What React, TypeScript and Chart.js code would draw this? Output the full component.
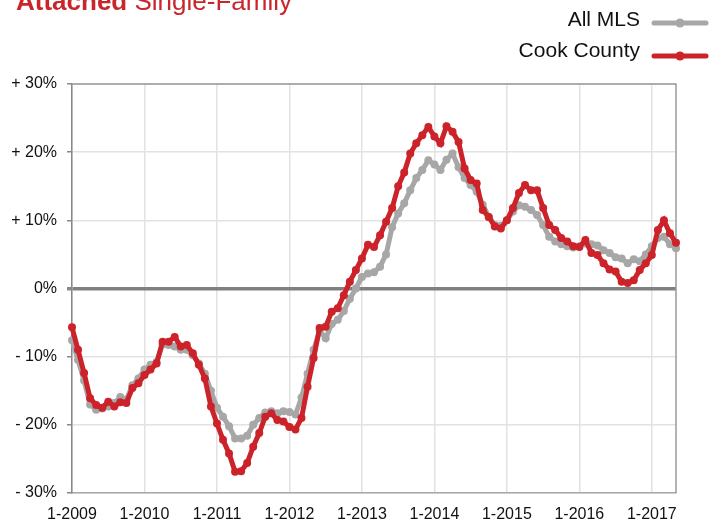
import React, { useEffect, useRef } from "react";
import { Chart, registerables } from "chart.js";

Chart.register(...registerables);

// ---- data ----
const START_YEAR = 2009;
const MONTH_COUNT = 101; // 1-2009 .. 5-2017
const MONTH_LABELS: string[] = [];
for (let i = 0; i < MONTH_COUNT; i++) {
  MONTH_LABELS.push(`${(i % 12) + 1}-${START_YEAR + Math.floor(i / 12)}`);
}

const ALL_MLS = [
  -7.6, -10.5, -13.5, -17.0, -17.8, -17.6, -17.3, -16.8, -15.9, -16.3, -14.2, -13.2,
  -11.9, -11.2, -10.8, -8.2, -8.3, -8.5, -9.0, -9.0, -9.8, -11.0, -12.5, -15.0,
  -17.5, -18.8, -20.2, -22.0, -22.0, -21.6, -20.0, -19.0, -18.2, -18.0, -18.3, -18.0,
  -18.1, -18.5, -16.0, -12.5, -9.0, -6.2, -7.3, -5.2, -4.6, -3.3, -1.5, 0.0,
  1.7, 2.2, 2.4, 3.2, 5.0, 9.0, 11.0, 12.5, 14.4, 16.2, 17.4, 18.8,
  18.2, 17.4, 18.9, 19.8, 17.8, 16.2, 15.2, 14.2, 12.3, 10.5, 9.3, 9.2,
  10.0, 11.3, 12.2, 12.0, 11.5, 10.8, 9.3, 7.6, 6.9, 6.5, 6.2, 6.0,
  6.2, 6.6, 6.5, 6.3, 5.6, 5.2, 4.6, 4.4, 3.7, 4.3, 4.0, 5.0,
  6.2, 7.4, 7.6, 6.5, 5.9,
];

const COOK_COUNTY = [
  -5.7, -9.0, -12.4, -16.1, -17.1, -17.5, -16.6, -17.3, -16.7, -16.8, -14.6, -13.9,
  -12.7, -11.9, -11.0, -7.8, -7.8, -7.1, -8.5, -8.3, -9.5, -11.2, -13.2, -17.3,
  -19.8, -22.2, -24.2, -26.9, -26.8, -25.6, -23.2, -21.2, -18.8, -18.3, -19.3, -19.5,
  -20.3, -20.7, -19.0, -14.4, -10.2, -5.8, -5.6, -3.4, -2.9, -1.0, 1.0, 2.7,
  4.4, 6.4, 6.1, 7.8, 9.8, 11.8, 15.0, 17.0, 19.8, 21.3, 22.5, 23.7,
  22.3, 21.3, 23.8, 23.0, 21.5, 17.6, 15.9, 15.4, 11.5, 10.5, 9.1, 8.8,
  10.0, 11.8, 14.0, 15.2, 14.4, 14.4, 11.8, 9.3, 8.6, 7.4, 6.9, 6.2,
  6.1, 7.1, 5.2, 4.9, 3.7, 2.8, 2.5, 1.0, 0.8, 1.2, 2.7, 3.7,
  4.9, 8.6, 10.0, 8.1, 6.7,
];

const Y_MIN = -30;
const Y_MAX = 30;
const Y_STEP = 10;

const TITLE_BOLD = "Attached";
const TITLE_REST = " Single-Family";

const GRAY = "#a7a7a7";
const RED = "#cc2229";
const FONT = "'Liberation Sans', Arial, Helvetica, sans-serif";

function fmtPct(v: number): string {
  if (v > 0) return `+ ${v}%`;
  if (v < 0) return `- ${Math.abs(v)}%`;
  return "0%";
}

const framePlugin = {
  id: "frame",
  beforeDatasetsDraw(chart: any) {
    const { ctx, chartArea } = chart;
    ctx.save();
    ctx.strokeStyle = "#9a9a9a";
    ctx.lineWidth = 1.5;
    ctx.beginPath();
    ctx.moveTo(chartArea.left, chartArea.top);
    ctx.lineTo(chartArea.right, chartArea.top);
    ctx.lineTo(chartArea.right, chartArea.bottom);
    ctx.stroke();
    ctx.restore();
  },
  afterDraw(chart: any) {
    const { ctx } = chart;
    ctx.save();
    // title (partly cut off at the top)
    ctx.fillStyle = "#c9262c";
    ctx.textBaseline = "alphabetic";
    ctx.textAlign = "left";
    ctx.font = `bold 26px ${FONT}`;
    ctx.fillText(TITLE_BOLD, 16, 10);
    const w = ctx.measureText(TITLE_BOLD).width;
    ctx.font = `26px ${FONT}`;
    ctx.fillText(TITLE_REST, 16 + w, 10);

    // legend
    const items = [
      { ds: chart.data.datasets[0], textY: 20, lineY: 23 },
      { ds: chart.data.datasets[1], textY: 51, lineY: 56 },
    ];
    ctx.font = `21px ${FONT}`;
    ctx.textAlign = "right";
    ctx.textBaseline = "middle";
    for (const it of items) {
      ctx.fillStyle = "#111";
      ctx.fillText(it.ds.label, 640, it.textY);
      ctx.strokeStyle = it.ds.borderColor;
      ctx.lineWidth = 5;
      ctx.lineCap = "round";
      ctx.beginPath();
      ctx.moveTo(654, it.lineY);
      ctx.lineTo(706, it.lineY);
      ctx.stroke();
      ctx.fillStyle = it.ds.borderColor;
      ctx.beginPath();
      ctx.arc(680, it.lineY, 4.5, 0, Math.PI * 2);
      ctx.fill();
    }
    ctx.restore();
  },
};

export default function App() {
  const ref = useRef<HTMLCanvasElement | null>(null);

  useEffect(() => {
    if (!ref.current) return;
    const chart = new Chart(ref.current, {
      type: "line",
      data: {
        labels: MONTH_LABELS,
        datasets: [
          {
            label: "All MLS",
            data: ALL_MLS,
            borderColor: GRAY,
            backgroundColor: GRAY,
            borderWidth: 5,
            pointRadius: 4,
            pointBorderWidth: 0,
            pointBackgroundColor: GRAY,
            tension: 0,
            order: 2,
          },
          {
            label: "Cook County",
            data: COOK_COUNTY,
            borderColor: RED,
            backgroundColor: RED,
            borderWidth: 5,
            pointRadius: 4,
            pointBorderWidth: 0,
            pointBackgroundColor: RED,
            tension: 0,
            order: 1,
          },
        ],
      },
      options: {
        responsive: false,
        animation: false,
        layout: { padding: { top: 84, right: 40, left: 0, bottom: 0 } },
        plugins: {
          legend: { display: false },
          title: { display: false },
          tooltip: { enabled: false },
        },
        scales: {
          x: {
            type: "category",
            offset: false,
            afterFit: (s: any) => {
              s.height = 27;
            },
            grid: {
              color: "#e2e2e2",
              lineWidth: 1.5,
              drawTicks: false,
            },
            border: { display: true, color: "#aaaaaa", width: 1.5 },
            ticks: {
              autoSkip: false,
              maxRotation: 0,
              padding: 12,
              color: "#111",
              font: { family: FONT, size: 16 },
              callback: function (this: any, _v: any, idx: number) {
                const l = MONTH_LABELS[idx];
                return l.startsWith("1-") ? l : null;
              },
            },
          },
          y: {
            min: Y_MIN,
            max: Y_MAX,
            afterFit: (s: any) => {
              s.width = 72;
            },
            grid: {
              color: (c: any) => (c.tick && c.tick.value === 0 ? "#808080" : "#e2e2e2"),
              lineWidth: (c: any) => (c.tick && c.tick.value === 0 ? 3.5 : 1.5),
              tickColor: "#888888",
              tickLength: 5,
              drawTicks: true,
            },
            border: { display: true, color: "#888888", width: 1.5 },
            ticks: {
              stepSize: Y_STEP,
              padding: 10,
              color: "#111",
              font: { family: FONT, size: 16 },
              callback: (v: any) => fmtPct(Number(v)),
            },
          },
        },
      },
      plugins: [framePlugin],
    } as any);
    return () => chart.destroy();
  }, []);

  return (
    <div style={{ position: "fixed", left: 0, top: 0, width: 716, height: 520, background: "#fff" }}>
      <canvas ref={ref} width={716} height={520} style={{ display: "block" }} />
    </div>
  );
}
